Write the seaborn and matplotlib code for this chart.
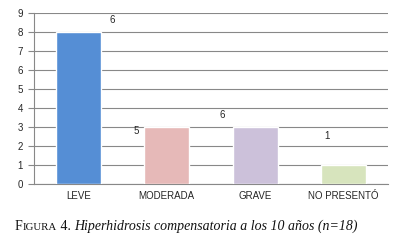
import matplotlib
matplotlib.use("Agg")
import matplotlib.pyplot as plt
import seaborn as sns
import pandas as pd

categorias = ['LEVE', 'MODERADA', 'GRAVE', 'NO PRESENTÓ']
pacientes = [8, 3, 3, 1]
etiquetas = ['6', '5', '6', '1']
colores = ['#558ED5', '#E6B9B8', '#CCC1DA', '#D7E4BD']

# desplazamiento de las etiquetas respecto a la barra (tal como en la figura original)
etiqueta_dx = [0.38, -0.35, -0.37, -0.19]
etiqueta_dy = [0.63, -0.21, 0.63, 1.53]

df = pd.DataFrame({'Categoria': categorias, 'Pacientes': pacientes})

sns.set_style('white')
plt.rcParams['font.family'] = ['Liberation Sans', 'DejaVu Sans']

fig = plt.figure(figsize=(4.09, 2.44), dpi=100)
ax = fig.add_axes([34 / 409, 1 - 184 / 244, 354 / 409, 171 / 244])

sns.barplot(data=df, x='Categoria', y='Pacientes', hue='Categoria', palette=colores,
            width=0.51, legend=False, ax=ax, saturation=1, zorder=3)

for i, (v, t) in enumerate(zip(pacientes, etiquetas)):
    ax.text(i + etiqueta_dx[i], v + etiqueta_dy[i], t, ha='center', va='center', fontsize=7)

ax.set_ylim(0, 9)
ax.set_xlim(-0.5, 3.5)
ax.set_yticks(range(10))
ax.grid(axis='y', color='#888888', linewidth=0.8, zorder=0)
ax.set_xlabel('')
ax.set_ylabel('')
for s in ['top', 'right']:
    ax.spines[s].set_visible(False)
for s in ['left', 'bottom']:
    ax.spines[s].set_color('#888888')
    ax.spines[s].set_linewidth(0.8)

ax.set_xticks([0, 1, 2, 3])
ax.set_xticklabels(categorias)
ax.set_xticks([-0.5, 0.5, 1.5, 2.5, 3.5], minor=True)
ax.tick_params(axis='x', which='major', length=0, pad=5, labelsize=7)
ax.tick_params(axis='x', which='minor', length=4, color='#888888', width=0.8, direction='out')
ax.tick_params(axis='y', length=4, color='#888888', width=0.8, labelsize=7, pad=4, left=True)

# pie de figura
fig.canvas.draw()
r = fig.canvas.get_renderer()
x = 15 / 409
y = 1 - 230 / 244
partes = [('F', 10, 'normal'), ('IGURA', 7.8, 'normal'), (' 4. ', 10, 'normal'),
          ('Hiperhidrosis compensatoria a los 10 años (n=18)', 10, 'italic')]
for texto, tam, estilo in partes:
    t = fig.text(x, y, texto, fontsize=tam, fontstyle=estilo, va='baseline',
                 family=['Liberation Serif', 'DejaVu Serif'], color='#111111')
    bb = t.get_window_extent(renderer=r)
    x += bb.width / fig.bbox.width

fig.savefig('out.png', dpi=100)
